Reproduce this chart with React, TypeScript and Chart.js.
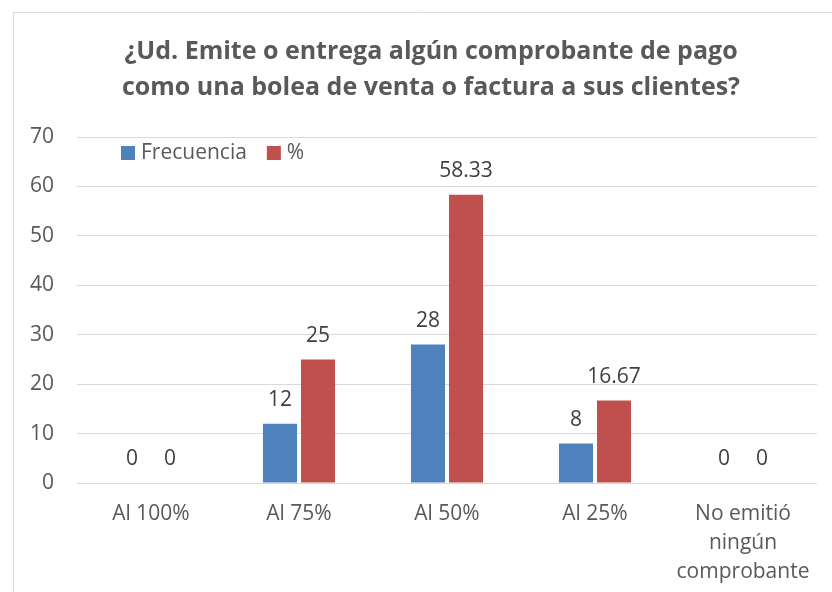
import React, { useEffect, useRef } from "react";
import { Chart, registerables } from "chart.js";

Chart.register(...registerables);

const categories: (string | string[])[] = ["Al 100%", "Al 75%", "Al 50%", "Al 25%", ["No emitió", "ningún", "comprobante"]];
const frecuencia: number[] = [0, 12, 28, 8, 0];
const porcentaje: number[] = [0, 25, 58.33, 16.67, 0];
const seriesNames: string[] = ["Frecuencia", "%"];
const titleLines: string[] = [
  "¿Ud. Emite o entrega algún comprobante de pago",
  "como una bolea de venta o factura a sus clientes?",
];

const FONT = "'Open Sans', Lato, sans-serif";

const borderPlugin = {
  id: "frameBorder",
  beforeDraw(chart: any) {
    const ctx = chart.ctx;
    ctx.save();
    ctx.fillStyle = "#ffffff";
    ctx.fillRect(0, 0, chart.width, chart.height);
    ctx.strokeStyle = "#d9d9d9";
    ctx.lineWidth = 1;
    ctx.beginPath();
    ctx.moveTo(13.5, chart.height + 2);
    ctx.lineTo(13.5, 12.5);
    ctx.lineTo(chart.width + 2, 12.5);
    ctx.stroke();
    ctx.restore();
  },
};

const titlePlugin = {
  id: "customTitle",
  afterDraw(chart: any) {
    const ctx = chart.ctx;
    ctx.save();
    ctx.font = `bold 25px ${FONT}`;
    ctx.fillStyle = "#595959";
    ctx.textAlign = "center";
    ctx.textBaseline = "middle";
    titleLines.forEach((line, i) => {
      ctx.fillText(line, 431, 52 + i * 36);
    });
    ctx.restore();
  },
};

const dataLabelPlugin = {
  id: "dataLabels",
  afterDatasetsDraw(chart: any) {
    const ctx = chart.ctx;
    ctx.save();
    ctx.font = `21px ${FONT}`;
    ctx.fillStyle = "#404040";
    ctx.textAlign = "center";
    ctx.textBaseline = "bottom";
    chart.data.datasets.forEach((ds: any, di: number) => {
      const meta = chart.getDatasetMeta(di);
      meta.data.forEach((bar: any, i: number) => {
        ctx.fillText(String(ds.data[i]), bar.x, bar.y - 13);
      });
    });
    ctx.restore();
  },
};

const legendPlugin = {
  id: "customLegend",
  afterDraw(chart: any) {
    const ctx = chart.ctx;
    const area = chart.chartArea;
    ctx.save();
    ctx.font = `21px ${FONT}`;
    ctx.textBaseline = "middle";
    ctx.textAlign = "left";
    let x = area.left + 44;
    const y = area.top + 16;
    chart.data.datasets.forEach((ds: any) => {
      ctx.fillStyle = ds.backgroundColor;
      ctx.fillRect(x, y - 7, 14, 14);
      ctx.fillStyle = "#595959";
      ctx.fillText(ds.label, x + 20, y);
      x += 20 + ctx.measureText(ds.label).width + 20;
    });
    ctx.restore();
  },
};

export default function App() {
  const ref = useRef<HTMLCanvasElement | null>(null);

  useEffect(() => {
    if (!ref.current) return;
    const chart = new Chart(ref.current, {
      type: "bar",
      data: {
        labels: categories as any,
        datasets: [
          {
            label: seriesNames[0],
            data: frecuencia,
            backgroundColor: "#4F81BD",
            categoryPercentage: 0.514,
            barPercentage: 0.895,
          },
          {
            label: seriesNames[1],
            data: porcentaje,
            backgroundColor: "#C0504D",
            categoryPercentage: 0.514,
            barPercentage: 0.895,
          },
        ],
      },
      options: {
        responsive: true,
        maintainAspectRatio: false,
        animation: false,
        layout: { padding: { left: 13, right: 15, top: 137, bottom: 0 } },
        plugins: {
          legend: { display: false },
          tooltip: { enabled: false },
          title: { display: false },
        },
        scales: {
          x: {
            grid: { display: false },
            border: { display: false },
            ticks: {
              color: "#595959",
              font: { family: FONT, size: 21, lineHeight: 1.4 },
              padding: 8,
              maxRotation: 0,
              autoSkip: false,
            },
            afterFit(scale: any) {
              scale.height = 109;
            },
          },
          y: {
            min: 0,
            max: 70,
            ticks: {
              stepSize: 10,
              color: "#595959",
              font: { family: FONT, size: 21 },
              padding: 23,
            },
            grid: { color: "#d9d9d9", lineWidth: 1, drawTicks: false },
            border: { display: false },
            afterFit(scale: any) {
              scale.width = 64;
            },
          },
        },
      },
      plugins: [borderPlugin, titlePlugin, dataLabelPlugin, legendPlugin],
    });
    return () => chart.destroy();
  }, []);

  return (
    <div style={{ position: "fixed", left: 0, top: 0, width: 832, height: 592, background: "#fff" }}>
      <canvas ref={ref} />
    </div>
  );
}
